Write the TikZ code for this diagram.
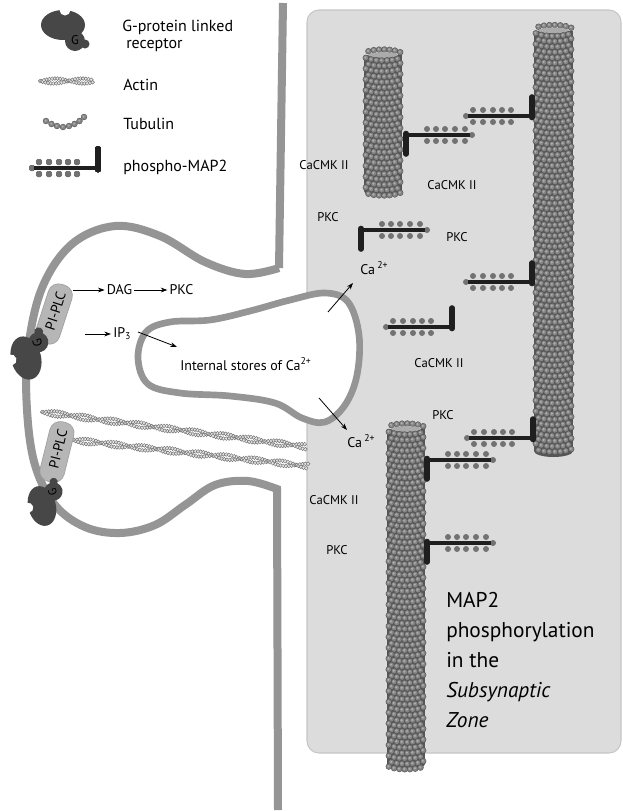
\documentclass[tikz,border=0pt]{standalone}
\usepackage{fontspec}
\setmainfont{PT Sans}
\usetikzlibrary{arrows.meta}
\definecolor{mem}{HTML}{959595}
\definecolor{boxfill}{HTML}{DCDCDC}
\definecolor{boxline}{HTML}{C6C6C6}
\definecolor{rec}{HTML}{474747}
\definecolor{pillc}{HTML}{B6B6B6}
\definecolor{pilld}{HTML}{A0A0A0}
\definecolor{ballf}{HTML}{858585}
\definecolor{balld}{HTML}{555555}
\definecolor{ballh}{HTML}{ADADAD}
\definecolor{capc}{HTML}{ABABAB}
\definecolor{dotc}{HTML}{727272}
\definecolor{actf}{HTML}{E6E6E6}
\definecolor{actd}{HTML}{737373}
\tikzset{
  lbl/.style={font=\fontsize{9.5}{11}\selectfont, inner sep=1pt},
  mlbl/.style={font=\fontsize{10.5}{12}\selectfont, inner sep=1.5pt},
  leg/.style={font=\fontsize{12}{14}\selectfont, anchor=base west, inner sep=0pt},
  big/.style={font=\fontsize{16}{20}\selectfont, anchor=base west, inner sep=0pt},
  arr/.style={-{Stealth[length=5pt,width=3.6pt]}, line width=0.6pt},
  membrane/.style={draw=mem, line width=6pt},
  mtball/.style={fill=ballf, draw=balld, line width=0.35pt},
  mthi/.style={fill=ballh},
  actinball/.style={fill=actf, draw=actd, line width=0.35pt},
  pillst/.style={draw=pilld, fill=pillc, line width=0.5pt, rounded corners=8pt,
    minimum width=46pt, minimum height=18.5pt, inner sep=1pt},
  pilltext/.style={font=\fontsize{10.5}{12}\selectfont, inner sep=0pt},
  receptor/.pic={
    \fill[rec] (0,0) ellipse [x radius=22, y radius=15];
    \fill[rec] (12,16) circle[radius=10];
    \fill[rec] (22,19) circle[radius=4.5];
    \fill[white] (2,-15) circle[radius=5.5];
    \node[font=\fontsize{9.5}{10}\selectfont, text=black, transform shape, inner sep=0pt] (g) at (12,15) {G};
  },
  maptwo/.pic={
    \foreach \xx in {-59,-49,-39,-30,-21}{
      \fill[dotc] (\xx,-6) circle[radius=3];
      \fill[dotc] (\xx,6) circle[radius=3];
    }
    \fill[dotc] (-66,0) circle[radius=3];
    \draw[black!88, line width=2.4pt] (-64,0) -- (0,0);
    \draw[black!88, line width=4.2pt, line cap=round] (0,1.5) -- (0,-19);
  }
}
\newcommand\mtball[2]{%
  \filldraw[mtball] (#1,#2) circle[radius=2.9];
  \fill[mthi] (#1-0.4,#2-0.4) circle[radius=1.2];
}
\newcommand\mtube[4]{%
  \pgfmathsetmacro\mtsp{(2*#4-5.6)/6.5}
  \fill[balld] (#1-#4+1,#2) rectangle (#1+#4-1,#3);
  \fill[balld] (#1,#3) ellipse[x radius=#4-1, y radius=6];
  \foreach \i in {0,...,6}{
    \pgfmathsetmacro\mtx{#1-#4+2.8+(\i+0.5)*\mtsp}
    \pgfmathsetmacro\mtu{(\mtx-#1)/#4}
    \pgfmathsetmacro\mty{#2-5.5*sqrt(max(0,1-\mtu*\mtu))}
    \mtball{\mtx}{\mty}
  }
  \fill[capc] (#1,#2) ellipse[x radius=#4-5, y radius=2.8];
  \pgfmathtruncatemacro\mtn{(#3-#2)/5.4}
  \foreach \j in {0,...,\mtn}{
    \pgfmathsetmacro\mtoff{0.5*mod(\j,2)}
    \foreach \i in {0,...,6}{
      \pgfmathsetmacro\mtx{#1-#4+2.8+(\i+\mtoff)*\mtsp}
      \pgfmathsetmacro\mtu{(\mtx-#1)/#4}
      \pgfmathsetmacro\mty{#2+5.4*\j+5.5*sqrt(max(0,1-\mtu*\mtu))}
      \mtball{\mtx}{\mty}
    }
  }
}
\newcommand\actinstrand[4]{%
  \pgfmathsetmacro\aL{veclen(#3-#1,#4-#2)}
  \pgfmathsetmacro\aux{(#3-#1)/\aL}
  \pgfmathsetmacro\auy{(#4-#2)/\aL}
  \pgfmathtruncatemacro\aN{\aL/2.7}
  \foreach \k in {0,...,\aN}{
    \pgfmathsetmacro\actS{\k*2.7}
    \pgfmathsetmacro\actA{mod(\k*2.7*6.42857,360)}
    \pgfmathsetmacro\wa{2.5*sin(\actA)}
    \pgfmathsetmacro\wb{-\wa}
    \filldraw[actinball] ({#1+\actS*\aux-\wa*\auy},{#2+\actS*\auy+\wa*\aux}) circle[radius=1.9];
    \filldraw[actinball] ({#1+(\actS+1.35)*\aux-\wb*\auy},{#2+(\actS+1.35)*\auy+\wb*\aux}) circle[radius=1.9];
  }
}
\begin{document}
\begin{tikzpicture}[x=0.75pt,y=-0.75pt]
\useasboundingbox (0,0) rectangle (622,811);
\fill[white] (0,0) rectangle (622,811);

% subsynaptic zone box
\filldraw[fill=boxfill, draw=boxline, line width=0.8pt, rounded corners=9pt] (307,10) rectangle (621,753);

% actin filaments in the spine
\actinstrand{42}{412}{307}{447}
\actinstrand{73}{440}{307}{466}

% internal Ca stores
\filldraw[fill=white, draw=mem, line width=5pt] plot[smooth cycle, tension=0.6] coordinates {
  (138,358) (146,332) (170,322) (210,320) (250,311) (290,300) (325,293) (348,302)
  (359,335) (357,375) (345,405) (325,422) (302,418) (275,403) (230,396) (180,393) (148,384)};

% membrane (shaft + spine)
\draw[membrane] (283,3) -- (279,268) plot[smooth, tension=0.6] coordinates {
  (279,268) (245,274) (205,262) (160,236) (115,226) (72,244) (42,288) (28,350)
  (27,410) (35,465) (55,505) (85,527) (120,533) (155,525) (185,505) (215,485)
  (248,481) (277,489)} -- (278,810);

% PI-PLC and receptors
\node[pillst, rotate=72] (pill1) at (54,314) {};
\node[pilltext, rotate=72] (pt1) at (55.5,311) {PI-PLC};
\node[pillst, rotate=76] (pill2) at (57,452) {};
\node[pilltext, rotate=76] (pt2) at (58,449) {PI-PLC};
\pic[rotate=105] (r1) at (26,358) {receptor};
\pic[rotate=105, scale=0.92] (r2) at (42,506) {receptor};

% microtubules
\mtube{383}{55}{191}{20}
\mtube{553.5}{30.5}{451}{20.5}
\mtube{406}{429}{764}{20}

% MAP2
\pic[xscale=-1,yscale=-1] (m1) at (406,135) {maptwo};
\pic (m2) at (532,116) {maptwo};
\pic[xscale=-1,yscale=-1] (m3) at (361,230) {maptwo};
\pic (m4) at (532,282) {maptwo};
\pic (m5) at (452,327) {maptwo};
\pic (m6) at (533,438) {maptwo};
\pic[xscale=-1,yscale=-1] (m7) at (427,460) {maptwo};
\pic[xscale=-1,yscale=-1] (m8) at (427,543) {maptwo};

% legend
\pic (lr) at (63,25) {receptor};
\actinstrand{40}{81}{93}{81}
\foreach \px/\py in {46/121,51.5/124,57/126,63/127,69/126,74.5/124,79.5/121,84/117}
  \mtball{\px}{\py}
\pic (lm) at (98,168) {maptwo};
\node[leg] (l1) at (122,31) {G-protein linked};
\node[leg] (l2) at (126,48) {receptor};
\node[leg] (l3) at (123,90) {Actin};
\node[leg] (l4) at (123,129) {Tubulin};
\node[leg] (l5) at (123,171) {phospho-MAP2};

% spine signalling
\coordinate (d0) at (73,290);
\node[mlbl] (dag) at (119.5,290) {DAG};
\node[mlbl] (pkcs) at (181.5,290) {PKC};
\draw[arr] (d0) -- (dag.west);
\draw[arr] (dag.east) -- (pkcs.west);
\coordinate (i0) at (85,334);
\node[mlbl, anchor=west] (ip3) at (111,334) {IP\textsubscript{3}};
\draw[arr] (i0) -- (ip3.west);
\coordinate (i1) at (138,332);
\coordinate (i2) at (177,347);
\draw[arr] (i1) -- (i2);
\node[mlbl, anchor=west] (store) at (178,364) {Internal stores of Ca\textsuperscript{2+}};

% Ca release
\node[mlbl, anchor=west] (ca1) at (358,268) {Ca\,\textsuperscript{2+}};
\node[mlbl, anchor=west] (ca2) at (345,441) {Ca\,\textsuperscript{2+}};
\coordinate (c1) at (328,312);
\coordinate (c2) at (353,283);
\draw[arr] (c1) -- (c2);
\coordinate (c3) at (319,398);
\coordinate (c4) at (347,430);
\draw[arr] (c3) -- (c4);

% kinase labels
\node[lbl] (k1) at (324,165) {CaCMK II};
\node[lbl] (k2) at (452,185) {CaCMK II};
\node[lbl] (k3) at (328,217) {PKC};
\node[lbl] (k4) at (457,237) {PKC};
\node[lbl] (k5) at (439,363) {CaCMK II};
\node[lbl] (k6) at (443,415) {PKC};
\node[lbl] (k7) at (334,500) {CaCMK II};
\node[lbl] (k8) at (337,550) {PKC};

% title text
\node[big] (t1) at (446,607) {MAP2};
\node[big] (t2) at (446,637) {phosphorylation};
\node[big] (t3) at (446,667) {in the};
\node[big] (t4) at (446,697) {\textit{Subsynaptic}};
\node[big] (t5) at (446,727) {\textit{Zone}};
\end{tikzpicture}
\end{document}
